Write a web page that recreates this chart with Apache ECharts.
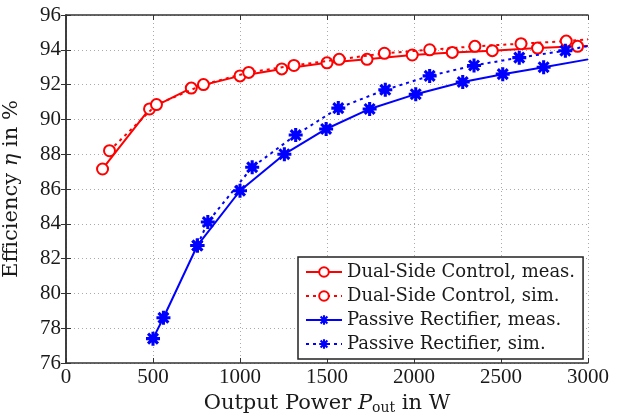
<!DOCTYPE html>
<html>
<head>
<meta charset="utf-8">
<script src="https://cdn.jsdelivr.net/npm/echarts@6/dist/echarts.min.js"></script>
<style>
html,body{margin:0;padding:0;background:#fff;}
#chart{width:625px;height:413px;}
</style>
</head>
<body>
<div id="chart"></div>
<script>
// ---- data ----
const seriesNames = ['Dual-Side Control, meas.', 'Dual-Side Control, sim.', 'Passive Rectifier, meas.', 'Passive Rectifier, sim.'];

const redMeasX = [210, 480, 720, 1000, 1240, 1500, 1730, 1990, 2220, 2450, 2710, 2940];
const redMeasY = [87.15, 90.6, 91.8, 92.5, 92.9, 93.25, 93.45, 93.7, 93.85, 93.95, 94.1, 94.2];
const redMeasEnd = [3000, 94.22];

const redSimX = [250, 520, 790, 1050, 1310, 1570, 1830, 2090, 2350, 2615, 2875];
const redSimY = [88.2, 90.85, 92.0, 92.7, 93.1, 93.45, 93.8, 94.0, 94.2, 94.35, 94.5];
const redSimEnd = [3000, 94.6];

const blueMeasX = [500, 560, 755, 1000, 1255, 1495, 1745, 2010, 2280, 2510, 2745];
const blueMeasY = [77.4, 78.6, 82.75, 85.9, 88.0, 89.45, 90.6, 91.45, 92.15, 92.6, 93.0];
const blueMeasEnd = [3000, 93.45];

const blueSimX = [755, 815, 1070, 1320, 1565, 1835, 2090, 2345, 2605, 2870];
const blueSimY = [82.75, 84.1, 87.25, 89.1, 90.65, 91.7, 92.5, 93.1, 93.55, 93.95];
const blueSimEnd = [3000, 94.22];

const xTicks = [0, 500, 1000, 1500, 2000, 2500, 3000];
const yTicks = [76, 78, 80, 82, 84, 86, 88, 90, 92, 94, 96];

// ---- styling ----
const FONT = "'Liberation Serif', 'DejaVu Serif', serif";
const WFONT = "'DejaVu Serif', 'Liberation Serif', serif";
const RED = '#ff0000';
const BLUE = '#0000ff';
const TXT = '#1a1a1a';
// 8-arm asterisk, all sub-paths with the same winding
const STAR = 'path://M-10,-2.2L10,-2.2L10,2.2L-10,2.2Z M-2.2,-10L2.2,-10L2.2,10L-2.2,10Z M-8.63,-5.51L-5.51,-8.63L8.63,5.51L5.51,8.63Z M-5.51,8.63L-8.63,5.51L5.51,-8.63L8.63,-5.51Z';

function buildData(xs, ys, end) {
  const d = xs.map((x, i) => [x, ys[i]]);
  d.push({ value: end, symbol: 'none' });
  return d;
}

function makeSeries(name, xs, ys, end, color, symbol, size, dashed) {
  const isCircle = symbol === 'emptyCircle';
  return {
    name: name,
    type: 'line',
    data: buildData(xs, ys, end),
    symbol: symbol,
    symbolSize: size,
    showAllSymbol: true,
    clip: true,
    lineStyle: { color: color, width: 2, type: dashed ? [3, 4] : 'solid' },
    itemStyle: isCircle
      ? { color: color, borderColor: color, borderWidth: 2 }
      : { color: color, borderColor: color, borderWidth: 0 },
    emphasis: { disabled: true },
    animation: false,
    z: dashed ? 3 : 2
  };
}

const chart = echarts.init(document.getElementById('chart'), null, { renderer: 'canvas' });

const axisLabelStyle = { fontFamily: FONT, fontSize: 21, color: TXT };

chart.setOption({
  animation: false,
  backgroundColor: '#fff',
  grid: { left: 66, right: 37, top: 15, bottom: 50, containLabel: false, outerBoundsMode: 'none' },
  xAxis: [{
    type: 'value', min: 0, max: 3000, interval: 500,
    position: 'bottom',
    axisLine: { show: true, lineStyle: { color: '#333', width: 1.5 } },
    axisTick: { show: true, inside: true, length: 5, lineStyle: { color: '#333' } },
    axisLabel: Object.assign({ margin: 4, formatter: v => (xTicks.includes(v) ? String(v) : '') }, axisLabelStyle),
    splitLine: { show: true, lineStyle: { color: '#aaa', type: [1, 3], width: 1 } },
    name: '{n|Output Power }{i|P}{s|out}{n| in W}',
    nameLocation: 'middle', nameGap: 24,
    nameTextStyle: {
      fontFamily: WFONT, fontSize: 21, color: TXT,
      rich: {
        n: { fontFamily: WFONT, fontSize: 21, color: TXT },
        i: { fontFamily: WFONT, fontSize: 21, fontStyle: 'italic', color: TXT },
        s: { fontFamily: WFONT, fontSize: 14, color: TXT, padding: [10, 0, 0, 0] }
      }
    }
  }, {
    type: 'value', min: 0, max: 3000, interval: 500,
    position: 'top',
    axisLine: { show: true, lineStyle: { color: '#333', width: 1.5 } },
    axisTick: { show: true, inside: true, length: 5, lineStyle: { color: '#333' } },
    axisLabel: { show: false },
    splitLine: { show: false }
  }],
  yAxis: [{
    type: 'value', min: 76, max: 96, interval: 2,
    position: 'left',
    axisLine: { show: true, lineStyle: { color: '#333', width: 1.5 } },
    axisTick: { show: true, inside: true, length: 5, lineStyle: { color: '#333' } },
    axisLabel: Object.assign({ margin: 5, formatter: v => (yTicks.includes(v) ? String(v) : '') }, axisLabelStyle),
    splitLine: { show: true, lineStyle: { color: '#aaa', type: [1, 3], width: 1 } },
    name: '{n|Efficiency }{i|η}{n| in %}',
    nameLocation: 'middle', nameGap: 44, nameRotate: 90,
    nameTextStyle: {
      fontFamily: WFONT, fontSize: 21, color: TXT,
      rich: {
        n: { fontFamily: WFONT, fontSize: 21, color: TXT },
        i: { fontFamily: WFONT, fontSize: 21, fontStyle: 'italic', color: TXT }
      }
    }
  }, {
    type: 'value', min: 76, max: 96, interval: 2,
    position: 'right',
    axisLine: { show: true, lineStyle: { color: '#333', width: 1.5 } },
    axisTick: { show: true, inside: true, length: 5, lineStyle: { color: '#333' } },
    axisLabel: { show: false },
    splitLine: { show: false }
  }],
  legend: {
    data: seriesNames,
    orient: 'vertical',
    left: 298, top: 257,
    itemWidth: 36, itemHeight: 12,
    itemGap: 4,
    padding: [5, 8, 5, 7],
    backgroundColor: '#fff',
    borderColor: '#222', borderWidth: 1.5, borderRadius: 0,
    textStyle: { fontFamily: WFONT, fontSize: 18, color: TXT, lineHeight: 20 },
    selectedMode: false
  },
  series: [
    makeSeries(seriesNames[0], redMeasX, redMeasY, redMeasEnd, RED, 'emptyCircle', 11, false),
    makeSeries(seriesNames[1], redSimX, redSimY, redSimEnd, RED, 'emptyCircle', 11, true),
    makeSeries(seriesNames[2], blueMeasX, blueMeasY, blueMeasEnd, BLUE, STAR, 14, false),
    makeSeries(seriesNames[3], blueSimX, blueSimY, blueSimEnd, BLUE, STAR, 14, true)
  ]
});
</script>
</body>
</html>
